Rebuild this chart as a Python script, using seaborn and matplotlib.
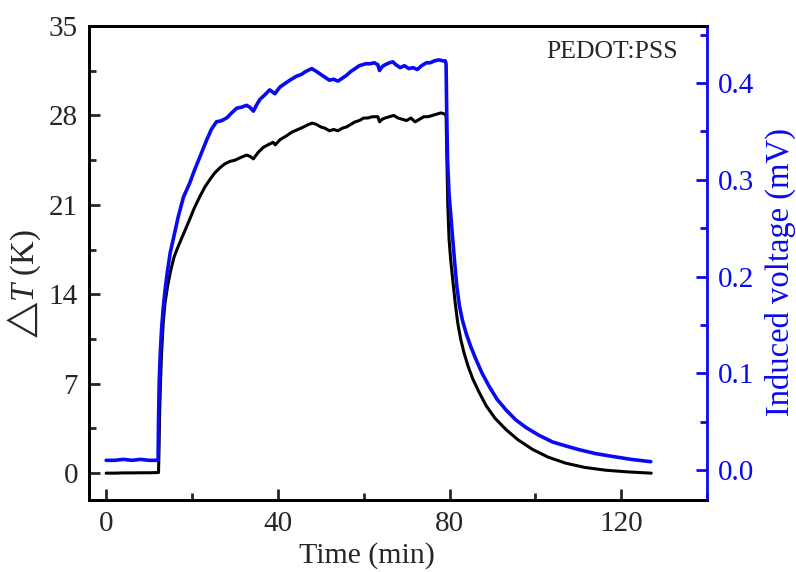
import matplotlib
matplotlib.use("Agg")
import matplotlib.pyplot as plt
import seaborn as sns
import numpy as np
import pandas as pd
from matplotlib.ticker import MultipleLocator

# ---------------- data ----------------
time_T = [0, 2, 4, 6, 8, 10, 12.2, 12.3, 12.45, 12.65, 12.9, 13.3, 13.7, 14.3, 15.0, 15.8,
          16.6, 17.6, 18.5, 19.5, 20.6, 21.9, 23.0, 24.2, 25.3, 26.5, 27.6, 28.8, 30.0,
          31.3, 32.7, 33.5, 34.3, 35.4, 36.6, 37.7, 38.9, 39.4, 40.5, 42.0, 43.3, 44.7,
          46, 47.2, 48, 49, 50, 51, 52, 53, 54, 55, 56, 57, 58, 59, 60, 61, 62, 63.3,
          63.7, 64.3, 65, 66, 67, 68, 69, 70, 71, 72, 73, 74, 75, 76, 77, 78, 79, 79.2,
          79.4, 79.6, 79.9, 80.3, 80.8, 81.3, 81.9, 82.6, 83.4, 84.3, 85.4, 86.8, 88.5,
          90.6, 93.2, 96.0, 99.4, 103.0, 107.1, 111.5, 116.4, 121.5, 127.0]
delta_T = [0.0, 0.0, 0.02, 0.02, 0.03, 0.03, 0.05, 1.5, 4.5, 7.0, 9.3, 11.8, 13.3, 14.6,
           15.8, 16.9, 17.6, 18.4, 19.1, 19.9, 20.8, 21.7, 22.4, 23.0, 23.5, 23.9, 24.2,
           24.4, 24.5, 24.7, 24.9, 24.8, 24.6, 25.1, 25.5, 25.7, 25.9, 25.7, 26.1, 26.4,
           26.7, 26.9, 27.1, 27.3, 27.4, 27.3, 27.1, 27.0, 26.8, 26.9, 26.8, 27.0, 27.1,
           27.3, 27.5, 27.6, 27.8, 27.8, 27.9, 27.9, 27.5, 27.7, 27.8, 27.9, 28.0, 27.8,
           27.7, 27.6, 27.8, 27.5, 27.7, 27.9, 27.9, 28.0, 28.1, 28.2, 28.1, 28.0, 24.5,
           21.0, 18.3, 16.6, 15.0, 13.4, 11.8, 10.5, 9.4, 8.4, 7.4, 6.4, 5.3, 4.3, 3.4,
           2.6, 1.85, 1.25, 0.78, 0.45, 0.23, 0.1, 0.0]

time_V = [0, 2, 4, 6, 8, 10, 12.1, 12.2, 12.35, 12.6, 12.9, 13.3, 13.7, 14.2, 14.9, 15.7,
          16.8, 18.0, 19.5, 20.5, 21.5, 22.5, 23.4, 24.5, 25.7, 26.8, 28.1, 29.2, 30.4,
          31.5, 32.7, 33.5, 34.3, 35.0, 35.8, 37.0, 38.1, 39.3, 40.5, 41.5, 42.8, 44.3,
          45.5, 46.5, 47.9, 49, 50, 51, 52, 53, 54, 55, 56, 57, 58, 59, 60.5, 61.5, 62.5,
          63.3, 63.7, 64.3, 65, 66, 66.8, 67.5, 68.5, 69.5, 70.5, 71.5, 72.5, 73.5, 74.6,
          75.5, 76.5, 77.5, 78.5, 79.0, 79.2, 79.35, 79.55, 79.9, 80.4, 80.8, 81.2, 81.7,
          82.3, 83.0, 83.9, 85.0, 86.2, 87.6, 89.3, 91.1, 93.2, 95.4, 97.8, 100.8, 104.0,
          107.0, 110.2, 114.0, 118.0, 122.3, 126.9]
voltage = [0.010, 0.010, 0.011, 0.010, 0.011, 0.010, 0.010, 0.05, 0.09, 0.12, 0.145, 0.168,
           0.185, 0.203, 0.224, 0.240, 0.262, 0.282, 0.297, 0.309, 0.320, 0.331, 0.341,
           0.352, 0.360, 0.361, 0.364, 0.369, 0.374, 0.375, 0.377, 0.375, 0.371, 0.377,
           0.383, 0.388, 0.393, 0.389, 0.396, 0.399, 0.403, 0.407, 0.409, 0.412, 0.415,
           0.412, 0.409, 0.406, 0.403, 0.404, 0.402, 0.405, 0.408, 0.412, 0.415, 0.418,
           0.420, 0.420, 0.421, 0.419, 0.413, 0.417, 0.419, 0.421, 0.422, 0.419, 0.416,
           0.418, 0.415, 0.416, 0.414, 0.418, 0.421, 0.421, 0.423, 0.424, 0.423, 0.423,
           0.420, 0.37, 0.32, 0.285, 0.258, 0.236, 0.215, 0.190, 0.170, 0.155, 0.141, 0.127,
           0.114, 0.100, 0.086, 0.073, 0.062, 0.052, 0.044, 0.036, 0.029, 0.025, 0.021,
           0.017, 0.014, 0.011, 0.0086]

x_ticks = [0, 40, 80, 120]
T_ticks = [0, 7, 14, 21, 28, 35]
V_ticks = [0.0, 0.1, 0.2, 0.3, 0.4]

# ---------------- style ----------------
sns.set_style("ticks")
plt.rcParams['font.family'] = ['Liberation Serif', 'DejaVu Serif']
plt.rcParams['mathtext.fontset'] = 'custom'
plt.rcParams['mathtext.rm'] = 'Liberation Serif'
plt.rcParams['mathtext.it'] = 'Liberation Serif:italic'
plt.rcParams['mathtext.fallback'] = 'stix'

BLUE = '#0a0af0'

fig = plt.figure(figsize=(7.96, 5.72), dpi=100)
ax = fig.add_axes([0.1118, 0.1259, 0.7764, 0.8286])
ax2 = ax.twinx()

dfT = pd.DataFrame({'t': time_T, 'dT': delta_T})
dfV = pd.DataFrame({'t': time_V, 'V': voltage})
sns.lineplot(data=dfT, x='t', y='dT', ax=ax, color='black', linewidth=2.2,
             estimator=None, sort=False, zorder=2)
sns.lineplot(data=dfV, x='t', y='V', ax=ax2, color=BLUE, linewidth=2.6,
             estimator=None, sort=False, zorder=3)

ax.set_xlim(-4, 140)
ax.set_ylim(-2.1, 35)
ax2.set_ylim(-0.031, 0.459)

ax.set_xticks(x_ticks)
ax.set_yticks(T_ticks)
ax2.set_yticks(V_ticks)
ax.xaxis.set_minor_locator(MultipleLocator(20))
ax.yaxis.set_minor_locator(MultipleLocator(3.5))
ax2.yaxis.set_minor_locator(MultipleLocator(0.05))
ax2.set_yticklabels([f"{v:.1f}" for v in V_ticks])

for a in (ax, ax2):
    for s in a.spines.values():
        s.set_linewidth(2.0)
        s.set_color('black')
ax2.spines['right'].set_color(BLUE)
ax.spines['right'].set_visible(False)

ax.tick_params(axis='both', which='major', direction='in', length=8, width=2,
               labelsize=21, pad=8, top=False, right=False)
ax.tick_params(axis='both', which='minor', direction='in', length=5, width=2,
               top=False, right=False)
ax2.tick_params(axis='y', which='major', direction='in', length=8, width=2,
                labelsize=21, pad=8, colors=BLUE)
ax2.tick_params(axis='y', which='minor', direction='in', length=5, width=2, colors=BLUE)

ax.set_xlabel('Time (min)', fontsize=21.5)
ax.set_ylabel(r'$\bigtriangleup\mathit{T}$ (K)', fontsize=23.5)
ax2.set_ylabel('Induced voltage (mV)', fontsize=23.5, color=BLUE)
ax.xaxis.set_label_coords(0.449, -0.088)
ax.yaxis.set_label_coords(-0.074, 0.456)
ax2.yaxis.set_label_coords(1.094, 0.482)

ax.text(0.953, 0.968, 'PEDOT:PSS', transform=ax.transAxes, ha='right', va='top',
        fontsize=18.5)

fig.savefig('out.png', dpi=100)
